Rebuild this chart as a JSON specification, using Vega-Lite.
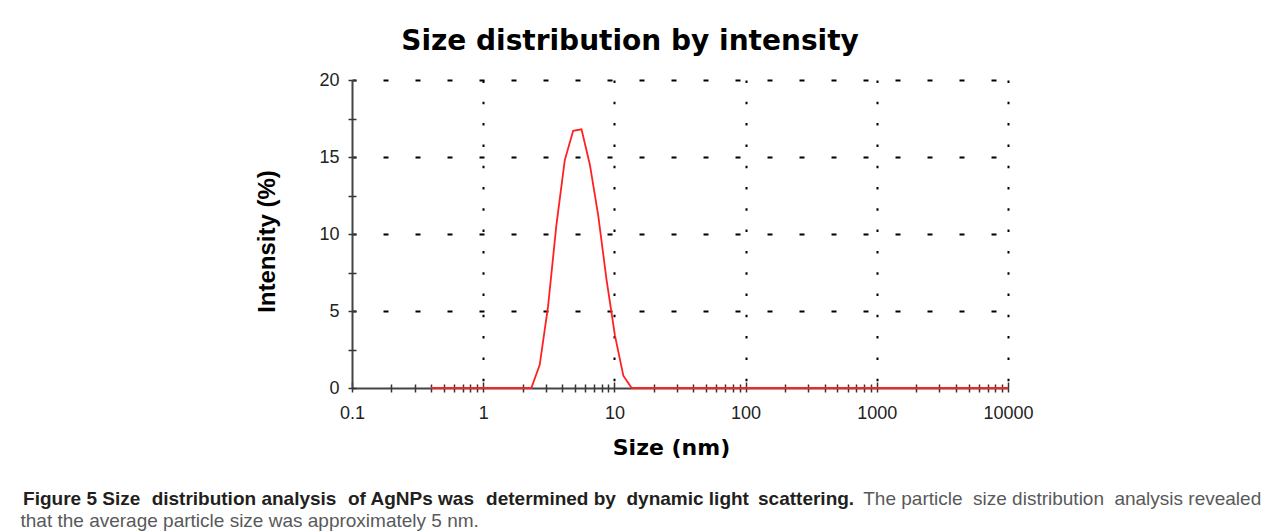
{
  "$schema": "https://vega.github.io/schema/vega-lite/v6.json",
  "width": 656,
  "height": 308,
  "autosize": {"type": "none"},
  "padding": {"left": 352, "top": 80, "right": 274, "bottom": 144},
  "background": "white",
  "config": {"view": {"stroke": null}},
  "title": {
    "text": "Size distribution by intensity",
    "font": "DejaVu Sans",
    "fontSize": 28,
    "fontWeight": "bold",
    "color": "#000000",
    "anchor": "middle",
    "dx": -50,
    "offset": 15
  },
  "data": {
    "values": [
      {"size": 0.4, "intensity": 0},
      {"size": 2.01, "intensity": 0},
      {"size": 2.328, "intensity": 0},
      {"size": 2.696, "intensity": 1.5},
      {"size": 3.122, "intensity": 5.3},
      {"size": 3.615, "intensity": 10.6},
      {"size": 4.187, "intensity": 14.8},
      {"size": 4.849, "intensity": 16.7},
      {"size": 5.615, "intensity": 16.8},
      {"size": 6.503, "intensity": 14.5},
      {"size": 7.531, "intensity": 11.2},
      {"size": 8.721, "intensity": 7.0},
      {"size": 10.1, "intensity": 3.4},
      {"size": 11.7, "intensity": 0.8},
      {"size": 13.54, "intensity": 0},
      {"size": 15.69, "intensity": 0},
      {"size": 10000, "intensity": 0}
    ]
  },
  "layer": [
    {
      "mark": {"type": "line", "color": "#ff2020", "strokeWidth": 1.8},
      "encoding": {
        "x": {
          "field": "size",
          "type": "quantitative",
          "scale": {"type": "log", "domain": [0.1, 10000], "nice": false},
          "axis": {
            "orient": "bottom",
            "values": [0.1,0.2,0.3,0.4,0.5,0.6,0.7,0.8,0.9,1,2,3,4,5,6,7,8,9,10,20,30,40,50,60,70,80,90,100,200,300,400,500,600,700,800,900,1000,2000,3000,4000,5000,6000,7000,8000,9000,10000],
            "labelExpr": "indexof([0.1,1,10,100,1000,10000], datum.value) >= 0 ? format(datum.value, '~g') : ''",
            "labelFont": "Liberation Sans",
            "labelFontSize": 18,
            "labelColor": "#222222",
            "labelPadding": 12,
            "labelFlush": false,
            "labelOverlap": false,
            "labelBound": false,
            "tickSize": 4,
            "tickColor": "#333333",
            "tickWidth": 1.5,
            "domainColor": "#444444",
            "domainWidth": 2,
            "grid": true,
            "gridColor": "#000000",
            "gridWidth": 2,
            "gridDash": [2.5, 18.8],
            "gridOpacity": {"condition": {"test": "indexof([1,10,100,1000,10000], datum.value) >= 0", "value": 1}, "value": 0},
            "title": "Size (nm)",
            "titleFont": "DejaVu Sans",
            "titleFontSize": 22,
            "titleFontWeight": "bold",
            "titleColor": "#000000",
            "titleX": 319,
            "titleY": 59,
            "titleAlign": "center",
            "titleBaseline": "middle"
          }
        },
        "y": {
          "field": "intensity",
          "type": "quantitative",
          "scale": {"domain": [0, 20], "nice": false},
          "axis": {
            "orient": "left",
            "values": [0, 2.5, 5, 7.5, 10, 12.5, 15, 17.5, 20],
            "labelExpr": "datum.value % 5 == 0 ? format(datum.value, '~g') : ''",
            "labelFont": "Liberation Sans",
            "labelFontSize": 18,
            "labelColor": "#222222",
            "labelPadding": 9,
            "labelFlush": false,
            "labelOverlap": false,
            "labelBound": false,
            "tickSize": 4,
            "tickColor": "#333333",
            "tickWidth": 1.5,
            "domainColor": "#444444",
            "domainWidth": 2,
            "grid": true,
            "gridColor": "#000000",
            "gridWidth": 2,
            "gridDash": [5, 27],
            "gridDashOffset": 1,
            "gridOpacity": {"condition": {"test": "datum.value % 5 == 0 && datum.value > 0", "value": 1}, "value": 0},
            "title": "Intensity (%)",
            "titleFont": "Liberation Sans",
            "titleFontSize": 24,
            "titleFontWeight": "bold",
            "titleColor": "#000000",
            "titleX": -85,
            "titleY": 161,
            "titleAngle": -90,
            "titleAlign": "center",
            "titleBaseline": "middle"
          }
        }
      }
    },
    {
      "mark": {"type": "line", "strokeOpacity": 0},
      "encoding": {
        "x": {
          "field": "size",
          "type": "quantitative",
          "axis": {
            "orient": "bottom",
            "values": [0.1,0.2,0.3,0.4,0.5,0.6,0.7,0.8,0.9,1,2,3,4,5,6,7,8,9,10,20,30,40,50,60,70,80,90,100,200,300,400,500,600,700,800,900,1000,2000,3000,4000,5000,6000,7000,8000,9000,10000],
            "labels": false,
            "domain": false,
            "grid": false,
            "ticks": true,
            "tickSize": {"condition": {"test": "indexof([0.1,1,10,100,1000,10000], datum.value) >= 0", "value": -6}, "value": -4},
            "tickColor": "#333333",
            "tickWidth": 1.5,
            "title": "Figure 5 Size",
            "titleFont": "Liberation Sans",
            "titleFontSize": 19,
            "titleFontWeight": "bold",
            "titleColor": "#231f20",
            "titleX": -270.8,
            "titleY": 110,
            "titleAlign": "center",
            "titleBaseline": "middle"
          }
        },
        "y": {
          "field": "intensity",
          "type": "quantitative",
          "axis": {
            "orient": "left",
            "values": [0, 2.5, 5, 7.5, 10, 12.5, 15, 17.5, 20],
            "labels": false,
            "domain": false,
            "grid": false,
            "tickSize": -4,
            "tickColor": "#333333",
            "tickWidth": 1.5,
            "title": null
          }
        }
      }
    },
    {
      "mark": {"type": "line", "strokeOpacity": 0},
      "encoding": {
        "x": {"field": "size", "type": "quantitative", "axis": {"orient": "bottom", "labels": false, "domain": false, "grid": false, "ticks": false,
          "title": "distribution analysis", "titleFont": "Liberation Sans", "titleFontSize": 19, "titleFontWeight": "bold", "titleColor": "#231f20",
          "titleX": -108.5, "titleY": 110, "titleAlign": "center", "titleBaseline": "middle"}},
        "y": {"field": "intensity", "type": "quantitative", "axis": null}
      }
    },
    {
      "mark": {"type": "line", "strokeOpacity": 0},
      "encoding": {
        "x": {"field": "size", "type": "quantitative", "axis": {"orient": "bottom", "labels": false, "domain": false, "grid": false, "ticks": false,
          "title": "of AgNPs was", "titleFont": "Liberation Sans", "titleFontSize": 19, "titleFontWeight": "bold", "titleColor": "#231f20",
          "titleX": 58.5, "titleY": 110, "titleAlign": "center", "titleBaseline": "middle"}},
        "y": {"field": "intensity", "type": "quantitative", "axis": null}
      }
    },
    {
      "mark": {"type": "line", "strokeOpacity": 0},
      "encoding": {
        "x": {"field": "size", "type": "quantitative", "axis": {"orient": "bottom", "labels": false, "domain": false, "grid": false, "ticks": false,
          "title": "determined by", "titleFont": "Liberation Sans", "titleFontSize": 19, "titleFontWeight": "bold", "titleColor": "#231f20",
          "titleX": 198.5, "titleY": 110, "titleAlign": "center", "titleBaseline": "middle"}},
        "y": {"field": "intensity", "type": "quantitative", "axis": null}
      }
    },
    {
      "mark": {"type": "line", "strokeOpacity": 0},
      "encoding": {
        "x": {"field": "size", "type": "quantitative", "axis": {"orient": "bottom", "labels": false, "domain": false, "grid": false, "ticks": false,
          "title": "dynamic light", "titleFont": "Liberation Sans", "titleFontSize": 19, "titleFontWeight": "bold", "titleColor": "#231f20",
          "titleX": 335.2, "titleY": 110, "titleAlign": "center", "titleBaseline": "middle"}},
        "y": {"field": "intensity", "type": "quantitative", "axis": null}
      }
    },
    {
      "mark": {"type": "line", "strokeOpacity": 0},
      "encoding": {
        "x": {"field": "size", "type": "quantitative", "axis": {"orient": "bottom", "labels": false, "domain": false, "grid": false, "ticks": false,
          "title": "scattering.", "titleFont": "Liberation Sans", "titleFontSize": 19, "titleFontWeight": "bold", "titleColor": "#231f20",
          "titleX": 453.6, "titleY": 110, "titleAlign": "center", "titleBaseline": "middle"}},
        "y": {"field": "intensity", "type": "quantitative", "axis": null}
      }
    },
    {
      "mark": {"type": "line", "strokeOpacity": 0},
      "encoding": {
        "x": {"field": "size", "type": "quantitative", "axis": {"orient": "bottom", "labels": false, "domain": false, "grid": false, "ticks": false,
          "title": "The particle", "titleFont": "Liberation Sans", "titleFontSize": 19, "titleFontWeight": "normal", "titleColor": "#58595b",
          "titleX": 560.4, "titleY": 110, "titleAlign": "center", "titleBaseline": "middle"}},
        "y": {"field": "intensity", "type": "quantitative", "axis": null}
      }
    },
    {
      "mark": {"type": "line", "strokeOpacity": 0},
      "encoding": {
        "x": {"field": "size", "type": "quantitative", "axis": {"orient": "bottom", "labels": false, "domain": false, "grid": false, "ticks": false,
          "title": "size distribution", "titleFont": "Liberation Sans", "titleFontSize": 19, "titleFontWeight": "normal", "titleColor": "#58595b",
          "titleX": 686.0, "titleY": 110, "titleAlign": "center", "titleBaseline": "middle"}},
        "y": {"field": "intensity", "type": "quantitative", "axis": null}
      }
    },
    {
      "mark": {"type": "line", "strokeOpacity": 0},
      "encoding": {
        "x": {"field": "size", "type": "quantitative", "axis": {"orient": "bottom", "labels": false, "domain": false, "grid": false, "ticks": false,
          "title": "analysis revealed", "titleFont": "Liberation Sans", "titleFontSize": 19, "titleFontWeight": "normal", "titleColor": "#58595b",
          "titleX": 835.3, "titleY": 110, "titleAlign": "center", "titleBaseline": "middle"}},
        "y": {"field": "intensity", "type": "quantitative", "axis": null}
      }
    },
    {
      "mark": {"type": "line", "strokeOpacity": 0},
      "encoding": {
        "x": {"field": "size", "type": "quantitative", "axis": {"orient": "bottom", "labels": false, "domain": false, "grid": false, "ticks": false,
          "title": "that the average particle size was approximately 5 nm.", "titleFont": "Liberation Sans", "titleFontSize": 19, "titleFontWeight": "normal", "titleColor": "#58595b",
          "titleX": -332, "titleY": 132, "titleAlign": "left", "titleBaseline": "middle"}},
        "y": {"field": "intensity", "type": "quantitative", "axis": null}
      }
    }
  ],
  "resolve": {"axis": {"x": "independent", "y": "independent"}}
}
